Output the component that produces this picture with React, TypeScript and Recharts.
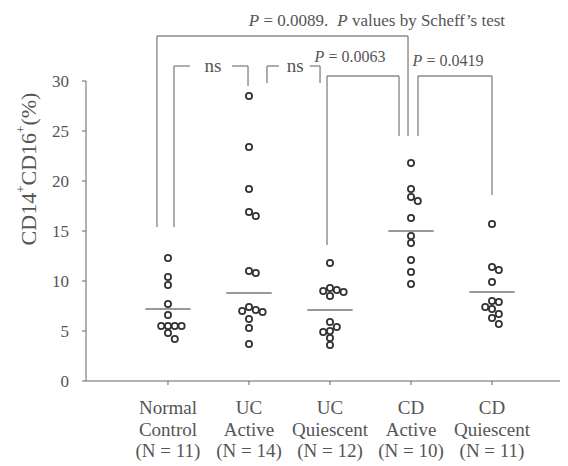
import React from 'react'
import { ScatterChart, Scatter, XAxis, YAxis, ReferenceLine, ReferenceDot } from 'recharts'

// group labels
const categoryTop = ['Normal', 'UC', 'UC', 'CD', 'CD']
const categoryBottom = ['Control', 'Active', 'Quiescent', 'Active', 'Quiescent']
const groupSizes = [11, 14, 12, 10, 11]

// CD14+CD16+ (%) per patient
const normalControl = [12.3, 10.4, 9.6, 7.7, 6.6, 5.5, 5.5, 5.5, 5.5, 4.8, 4.2]
const ucActive = [28.5, 23.4, 19.2, 16.9, 16.5, 11.0, 10.8, 7.4, 7.1, 7.0, 6.9, 6.2, 5.3, 3.7]
const ucQuiescent = [11.8, 9.3, 9.1, 9.0, 8.9, 8.5, 5.9, 5.4, 5.0, 4.9, 4.3, 3.6]
const cdActive = [21.8, 19.2, 18.4, 18.0, 16.3, 14.5, 13.8, 12.1, 10.9, 9.7]
const cdQuiescent = [15.7, 11.4, 11.1, 9.9, 8.0, 7.9, 7.4, 7.2, 6.7, 6.3, 5.7]

// horizontal bar drawn in each group
const groupLines = [7.2, 8.8, 7.1, 15.0, 8.9]

const yTicks = [0, 5, 10, 15, 20, 25, 30]

// comparison brackets, in (group index, value) units
const bracketSegments: number[][] = [
  // P = 0.0089  Normal Control vs CD Active
  [-0.136, 15.4, -0.136, 34.5],
  [-0.136, 34.5, 2.963, 34.5],
  [2.963, 34.5, 2.963, 24.5],
  // ns  Normal Control vs UC Active
  [0.074, 15.4, 0.074, 31.5],
  [0.074, 31.5, 0.27, 31.5],
  [0.79, 31.5, 0.988, 31.5],
  [0.988, 31.5, 0.988, 29.5],
  // ns  UC Active vs UC Quiescent
  [1.222, 29.8, 1.222, 31.5],
  [1.222, 31.5, 1.37, 31.5],
  [1.75, 31.5, 1.877, 31.5],
  [1.877, 31.5, 1.877, 29.8],
  // P = 0.0063  UC Quiescent vs CD Active
  [1.963, 13.6, 1.963, 30.5],
  [1.963, 30.5, 2.852, 30.5],
  [2.852, 30.5, 2.852, 24.5],
  // P = 0.0419  CD Active vs CD Quiescent
  [3.086, 24.5, 3.086, 30.5],
  [3.086, 30.5, 4.0, 30.5],
  [4.0, 30.5, 4.0, 18.6],
]

const bracketLabels = [
  { x: 2.58, y: 36.1, p: '0.0089.', note: 'values by Scheff\u2019s test', size: 17 },
  { x: 0.556, y: 31.6, text: 'ns', size: 19 },
  { x: 1.57, y: 31.6, text: 'ns', size: 19 },
  { x: 2.247, y: 32.5, p: '0.0063', size: 16 },
  { x: 3.457, y: 32.1, p: '0.0419', size: 16 },
]

const FONT = '"Liberation Serif", "Times New Roman", serif'
const INK = '#555'
const LINE = '#8a8a8a'

const W = 560
const H = 458
const PX_PER_GROUP = 81
const PX_PER_UNIT = 10

// simple beeswarm so overlapping circles sit side by side
function swarm(values: number[], group: number) {
  const placed: { x: number; y: number }[] = []
  return values.map((v) => {
    const py = v * PX_PER_UNIT
    let off = 0
    for (let k = 0; k < 20; k++) {
      off = (k % 2 === 1 ? 1 : -1) * Math.ceil(k / 2) * 6.8
      if (placed.every((p) => Math.hypot(p.x - off, p.y - py) >= 6.6)) break
    }
    placed.push({ x: off, y: py })
    return { x: group + off / PX_PER_GROUP, y: v }
  })
}

const groups = [normalControl, ucActive, ucQuiescent, cdActive, cdQuiescent]

const Ring = (props: any) => (
  <circle cx={props.cx} cy={props.cy} r={3.1} fill="none" stroke="#333" strokeWidth={1.8} />
)

const CategoryTick = (props: any) => {
  const { x, y, payload } = props
  const i = payload.value
  return (
    <text x={x} y={y} textAnchor="middle" fontFamily={FONT} fontSize={19} fill={INK}>
      <tspan x={x} dy={27}>{categoryTop[i]}</tspan>
      <tspan x={x} dy={21.5}>{categoryBottom[i]}</tspan>
      <tspan x={x} dy={21.5}>{`(N = ${groupSizes[i]})`}</tspan>
    </text>
  )
}

const YLabel = (props: any) => {
  const vb = props.viewBox
  const cx = vb.x + 20
  const cy = vb.y + 88
  return (
    <text
      x={cx}
      y={cy}
      transform={`rotate(-90, ${cx}, ${cy})`}
      textAnchor="middle"
      dominantBaseline="central"
      fontFamily={FONT}
      fontSize={22}
      fill={INK}
    >
      CD14<tspan dy={-8} fontSize={13}>+</tspan>
      <tspan dy={8}>CD16</tspan>
      <tspan dy={-8} fontSize={13}>+</tspan>
      <tspan dy={8}>(%)</tspan>
    </text>
  )
}

const bracketText = (lab: any) => (props: any) => (
  <text
    x={props.cx}
    y={props.cy}
    textAnchor="middle"
    dominantBaseline="central"
    fontFamily={FONT}
    fontSize={lab.size}
    fill={INK}
  >
    {lab.text ? (
      lab.text
    ) : (
      <>
        <tspan fontStyle="italic">P</tspan>
        {` = ${lab.p}`}
        {lab.note && (
          <>
            <tspan dx={9} fontStyle="italic">P</tspan>
            {` ${lab.note}`}
          </>
        )}
      </>
    )}
  </text>
)

export default function App() {
  return (
    <div style={{ width: W, height: H, background: '#fff' }}>
      <ScatterChart width={W} height={H} margin={{ top: 73, right: 0, bottom: 0, left: 0 }}>
        <XAxis
          type="number"
          dataKey="x"
          domain={[-1.012, 4.938]}
          allowDataOverflow
          ticks={[0, 1, 2, 3, 4]}
          tick={<CategoryTick />}
          tickSize={4}
          height={85}
          stroke="#666"
          interval={0}
        />
        <YAxis
          type="number"
          dataKey="y"
          domain={[0, 30]}
          allowDataOverflow
          ticks={yTicks}
          width={78}
          tickSize={4}
          tickMargin={13}
          stroke="#666"
          tick={{ fontSize: 17, fill: INK, fontFamily: FONT }}
          label={{ content: <YLabel /> }}
        />
        {bracketSegments.map((s, i) => (
          <ReferenceLine
            key={`b${i}`}
            segment={[
              { x: s[0], y: s[1] },
              { x: s[2], y: s[3] },
            ]}
            stroke={LINE}
            strokeWidth={1.4}
            ifOverflow="visible"
          />
        ))}
        {bracketLabels.map((lab, i) => (
          <ReferenceDot key={`l${i}`} x={lab.x} y={lab.y} ifOverflow="visible" shape={bracketText(lab)} />
        ))}
        {groupLines.map((m, i) => (
          <ReferenceLine
            key={`m${i}`}
            segment={[
              { x: i - 0.28, y: m },
              { x: i + 0.28, y: m },
            ]}
            stroke="#777"
            strokeWidth={1.3}
            ifOverflow="visible"
          />
        ))}
        {groups.map((g, i) => (
          <Scatter key={`g${i}`} data={swarm(g, i)} shape={<Ring />} isAnimationActive={false} />
        ))}
      </ScatterChart>
    </div>
  )
}
